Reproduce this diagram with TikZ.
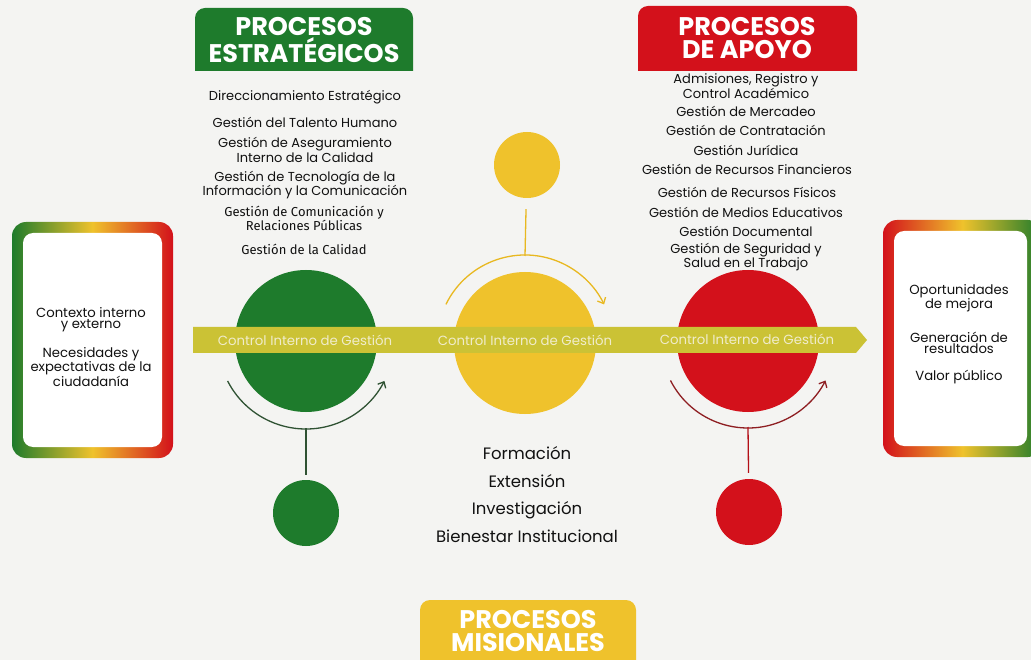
\documentclass[tikz,border=0pt]{standalone}
\usepackage{fontspec}
\setmainfont{Poppins}
\newfontfamily\altfont{Fira Sans}
\usetikzlibrary{arrows.meta}
\definecolor{bg}{HTML}{F4F4F2}
\definecolor{cgreen}{HTML}{1E7B2C}
\definecolor{cyellow}{HTML}{EFC22C}
\definecolor{cred}{HTML}{D3111B}
\definecolor{cband}{HTML}{CBC235}
\definecolor{cbandtxt}{HTML}{F0ECCB}
\definecolor{arcgreen}{HTML}{2F5233}
\definecolor{arcred}{HTML}{8E1E22}
\definecolor{arcyellow}{HTML}{E8B820}
\definecolor{txt}{HTML}{111111}
\begin{document}
\begin{tikzpicture}[x=1pt,y=-1pt,
  item/.style={font=\fontsize{13}{11.5}\selectfont, align=center, text=txt, inner sep=0pt},
  altitem/.style={font=\altfont\fontsize{13}{12}\selectfont, align=center, text=txt, inner sep=0pt},
  misitem/.style={font=\fontsize{16.5}{16}\selectfont, text=txt, inner sep=0pt, anchor=base},
  boxtext/.style={font=\fontsize{13.2}{11.2}\selectfont, align=center, text=txt, inner sep=0pt},
  head/.style={font=\bfseries\fontsize{25.5}{23.5}\selectfont, align=center, text=white, inner sep=0pt},
  bandtext/.style={font=\fontsize{13.3}{13}\selectfont, text=cbandtxt, inner sep=0pt},
  bigdot/.style={circle, minimum size=142pt, inner sep=0pt, draw=none},
  smalldot/.style={circle, minimum size=66pt, inner sep=0pt, draw=none},
  cyclearrow/.style={line width=1.3pt, -{Straight Barb[length=5pt,width=9pt]}},
  link/.style={line width=1.3pt}
]
\useasboundingbox (0,0) rectangle (1031,660);
\fill[bg] (0,0) rectangle (1031,660);

% side frames
\shade[left color=cgreen, right color=cred, middle color=cyellow, rounded corners=14pt] (12,222) rectangle (173,458);
\fill[white, rounded corners=10pt] (23,233) rectangle (162,447);
\begin{scope}
\clip (0,0) rectangle (1031,660);
\shade[left color=cred, right color=cgreen, middle color=cyellow, rounded corners=14pt] (883,220) rectangle (1042,457);
\fill[white, rounded corners=10pt] (894,231) rectangle (1027,446);
\end{scope}

\node[boxtext] (ctx) at (91,320) {Contexto interno\\y externo};
\node[boxtext] (nec) at (91,367) {Necesidades y\\expectativas de la\\ciudadanía};
\node[boxtext] (opo) at (959,298) {Oportunidades\\de mejora};
\node[boxtext] (gen) at (959,343) {Generación de\\resultados};
\node[boxtext] (val) at (959,377) {Valor público};

% headers
\fill[cgreen] (195,71) [rounded corners=10pt] -- (195,8) -- (413,8) [sharp corners] -- (413,71) -- cycle;
\node[head] (hE) at (304,40) {PROCESOS\\ESTRATÉGICOS};
\fill[cred] (638,71) [rounded corners=10pt] -- (638,6) -- (857,6) [sharp corners] -- (857,71) -- cycle;
\node[head] (hA) at (747,38) {PROCESOS\\DE APOYO};
\fill[cyellow] (420,670) [rounded corners=10pt] -- (420,600) -- (636,600) [sharp corners] -- (636,670) -- cycle;
\node[head] (hM) at (528,631) {PROCESOS\\MISIONALES};

% estrategicos list
\node[item] (e1) at (305,97) {Direccionamiento Estratégico};
\node[item] (e2) at (305,122) {Gestión del Talento Humano};
\node[item] (e3) at (305,150) {Gestión de Aseguramiento\\Interno de la Calidad};
\node[item] (e4) at (305,185) {Gestión de Tecnología de la\\Información y la Comunicación};
\node[altitem] (e5) at (304,218) {Gestión de Comunicación y\\Relaciones Públicas};
\node[altitem] (e6) at (304,249) {Gestión de la Calidad};

% apoyo list
\node[item] (a1) at (746,86) {Admisiones, Registro y\\Control Académico};
\node[item] (a2) at (746,111) {Gestión de Mercadeo};
\node[item] (a3) at (746,130) {Gestión de Contratación};
\node[item] (a4) at (746,150) {Gestión Jurídica};
\node[item] (a5) at (747,169) {Gestión de Recursos Financieros};
\node[item] (a6) at (747,192) {Gestión de Recursos Físicos};
\node[item] (a7) at (746,212) {Gestión de Medios Educativos};
\node[item] (a8) at (746,231) {Gestión Documental};
\node[item] (a9) at (746,257) {Gestión de Seguridad y\\Salud en el Trabajo};

% misional list
\node[misitem] (m1) at (527,459) {Formación};
\node[misitem] (m2) at (527,487) {Extensión};
\node[misitem] (m3) at (527,514) {Investigación};
\node[misitem] (m4) at (527,542) {Bienestar Institucional};

% circles
\node[bigdot, fill=cgreen] (G) at (306,341) {};
\node[bigdot, fill=cyellow] (Y) at (525,343) {};
\node[bigdot, fill=cred] (R) at (748,341) {};
\node[smalldot, fill=cgreen] (gs) at (306,513) {};
\node[smalldot, fill=cyellow] (ys) at (527,165) {};
\node[smalldot, fill=cred] (rs) at (749,512) {};

% band
\fill[cband] (193,327) -- (856,327) -- (867,340) -- (856,353) -- (193,353) -- cycle;
\node[bandtext] (b1) at (305,340) {Control Interno de Gestión};
\node[bandtext] (b2) at (525,340) {Control Interno de Gestión};
\node[bandtext] (b3) at (747,339) {Control Interno de Gestión};

% cycle arcs
\draw[cyclearrow, arcgreen] (G.center) ++(153:88) arc[start angle=153, end angle=27, radius=88];
\draw[cyclearrow, arcyellow] (Y.center) ++(206:88) arc[start angle=206, end angle=334, radius=88];
\draw[cyclearrow, arcred] (R.center) ++(153:87) arc[start angle=153, end angle=27, radius=87];

% links
\draw[link, arcgreen, shorten >=5pt] (G.center) ++(0,87) -- (gs);
\draw[link, arcyellow, shorten >=11pt] (Y.center) ++(0,-87) -- (ys);
\draw[link, cred!85!black, shorten >=6pt] (R.center) ++(0,86) -- (rs);
\end{tikzpicture}
\end{document}
